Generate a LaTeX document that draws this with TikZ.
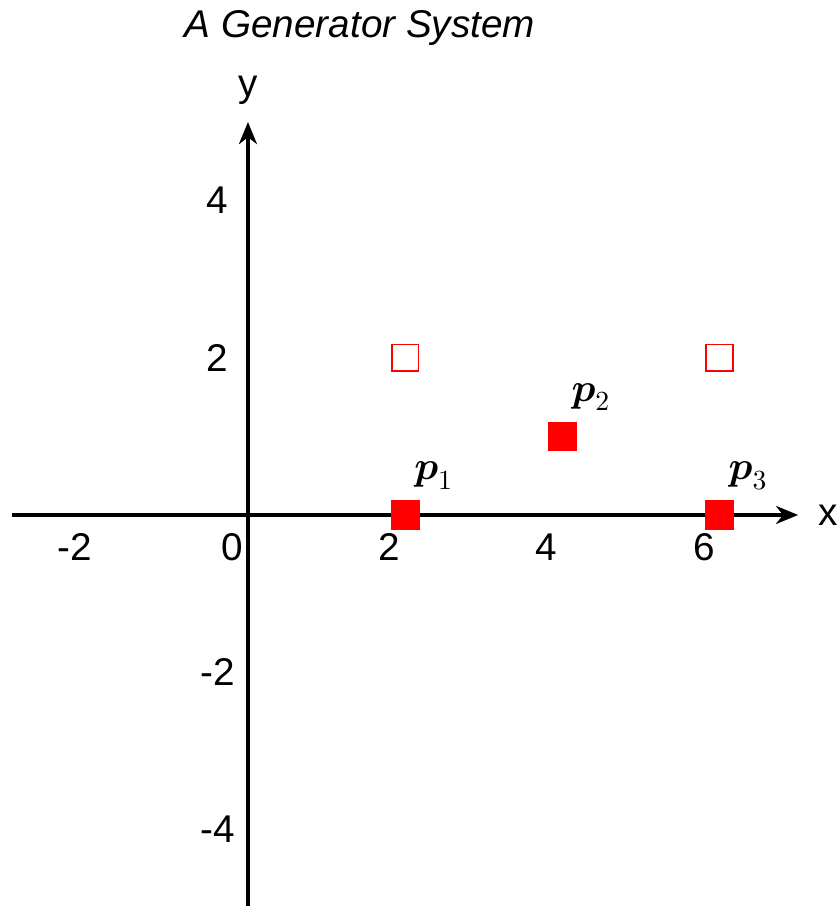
\documentclass[tikz,border=0pt]{standalone}
\usepackage{amsmath}
\usepackage{fontspec}
\setmainfont{Liberation Sans}
\usetikzlibrary{arrows.meta}
\begin{document}
\begin{tikzpicture}[x=1cm,y=1cm,
  axis/.style={line width=1.3pt, -{Stealth[length=8pt,width=6.5pt,inset=2.5pt]}},
  lbl/.style={font=\fontsize{14}{16}\selectfont, inner sep=0pt},
  filledsq/.style={rectangle, fill=red, minimum size=0.37cm, inner sep=0pt},
  hollowsq/.style={rectangle, draw=red, line width=0.6pt, fill=white, minimum size=0.34cm, inner sep=0pt},
  plabel/.style={font=\fontsize{14}{16}\selectfont, inner sep=0pt}]
\useasboundingbox (-3.155,-4.975) rectangle (7.506,6.552);
\coordinate (xs) at (-3,0);
\coordinate (xe) at (7,0);
\coordinate (ys) at (0,-5);
\coordinate (ye) at (0,5);
\draw[axis] (xs) -- (xe);
\draw[axis] (ys) -- (ye);
% axis names
\node[lbl] (xname) at (7.38,0) {x};
\node[lbl] (yname) at (0,5.4) {y};
% title
\node[lbl, font=\fontsize{14}{16}\selectfont\itshape] (title) at (1.425,6.2) {A Generator System};
% x tick labels
\node[lbl] (xm2) at (-2.2,-0.41) {-2};
\node[lbl] (x0) at (-0.2,-0.41) {0};
\node[lbl] (x2) at (1.8,-0.41) {2};
\node[lbl] (x4) at (3.8,-0.41) {4};
\node[lbl] (x6) at (5.8,-0.41) {6};
% y tick labels
\node[lbl] (y4) at (-0.388,4) {4};
\node[lbl] (y2) at (-0.388,2) {2};
\node[lbl] (ym2) at (-0.388,-2) {-2};
\node[lbl] (ym4) at (-0.388,-4) {-4};
% hollow squares
\node[hollowsq] (h1) at (2,2) {};
\node[hollowsq] (h2) at (6,2) {};
% filled squares
\node[filledsq] (p1) at (2,0) {};
\node[filledsq] (p2) at (4,1) {};
\node[filledsq] (p3) at (6,0) {};
% point labels
\node[plabel] (l1) at (2.365,0.5) {$\boldsymbol{p}_1$};
\node[plabel] (l2) at (4.365,1.5) {$\boldsymbol{p}_2$};
\node[plabel] (l3) at (6.365,0.5) {$\boldsymbol{p}_3$};
\end{tikzpicture}
\end{document}
